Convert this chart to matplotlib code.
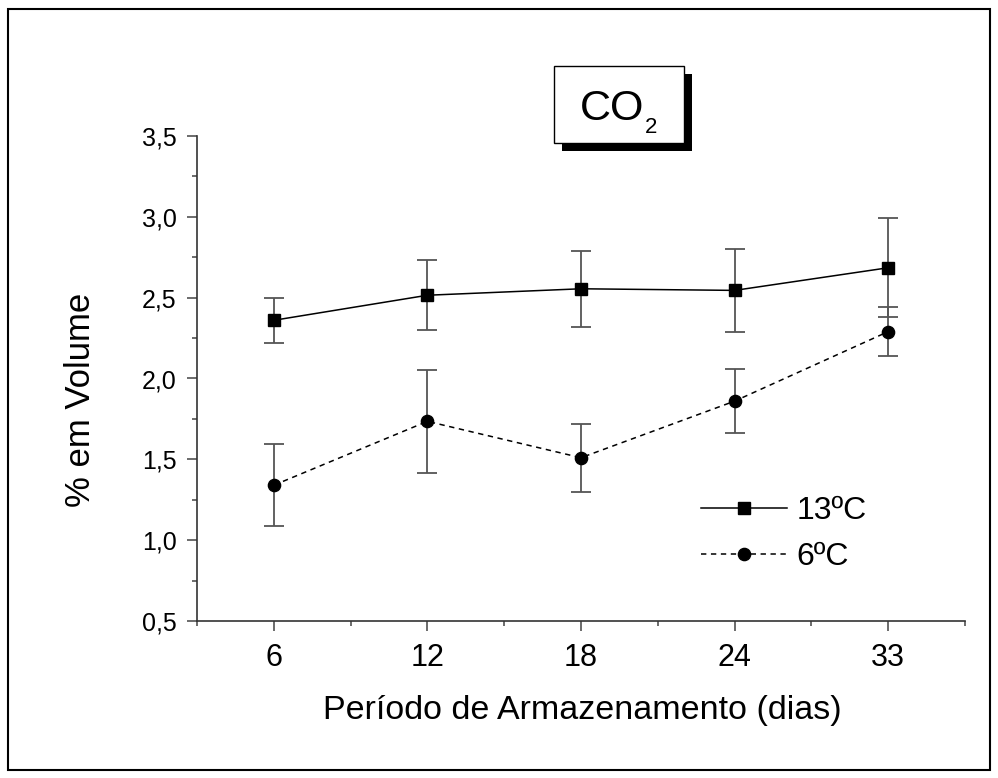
import matplotlib
matplotlib.use('Agg')
import matplotlib.pyplot as plt
from matplotlib.patches import Rectangle
from matplotlib.ticker import FixedLocator, FuncFormatter, MultipleLocator

plt.rcParams['font.family'] = ['Liberation Sans', 'DejaVu Sans']

# dados
dias = ['6', '12', '18', '24', '33']
co2_13 = [2.36, 2.515, 2.555, 2.545, 2.685]
err_13 = [0.14, 0.215, 0.235, 0.255, 0.305]
co2_6 = [1.34, 1.735, 1.51, 1.86, 2.29]
err_6 = [0.255, 0.32, 0.21, 0.20, 0.15]

W, H = 998, 778
fig = plt.figure(figsize=(W / 100, H / 100), dpi=100)
ax = fig.add_axes([197 / W, 1 - 621 / H, 768 / W, 485 / H])

def px(x, y):
    # pixel (a partir do topo) -> fração da figura
    return x / W, 1 - y / H

pos = list(range(len(dias)))

# barras de erro
ax.errorbar(pos, co2_13, yerr=err_13, fmt='none', ecolor='#555555',
            elinewidth=1.3, capsize=7.5, capthick=1.3, zorder=2)
ax.errorbar(pos, co2_6, yerr=err_6, fmt='none', ecolor='#555555',
            elinewidth=1.3, capsize=7.5, capthick=1.3, zorder=2)

# séries
ax.plot(pos, co2_13, color='black', lw=1.1, marker='s', ms=8.5,
        mfc='black', mec='black', label='13ºC', zorder=3)
ax.plot(pos, co2_6, color='black', lw=1.1, ls=(0, (3.5, 3)), marker='o',
        ms=8.8, mfc='black', mec='black', label='6ºC', zorder=3)

ax.set_xlim(-0.5, 4.5)
ax.set_ylim(0.5, 3.5)
ax.xaxis.set_major_locator(FixedLocator(pos))
ax.set_xticklabels(dias)
ax.xaxis.set_minor_locator(FixedLocator([p - 0.5 for p in pos] + [4.5]))
ax.yaxis.set_major_locator(MultipleLocator(0.5))
ax.yaxis.set_minor_locator(MultipleLocator(0.25))
ax.yaxis.set_major_formatter(FuncFormatter(lambda v, p: f'{v:.1f}'.replace('.', ',')))

for s in ['top', 'right']:
    ax.spines[s].set_visible(False)
for s in ['left', 'bottom']:
    ax.spines[s].set_color('#333333')
    ax.spines[s].set_linewidth(1.2)

ax.tick_params(which='major', direction='out', length=7.5, width=1.1, color='#444444')
ax.tick_params(which='minor', direction='out', length=3.8, width=1.1, color='#444444')
ax.tick_params(axis='x', which='major', labelsize=22, pad=8)
ax.tick_params(axis='y', which='major', labelsize=18, pad=7)

fig.text(*px(582, 710), 'Período de Armazenamento (dias)', fontsize=24.5,
         ha='center', va='center')
fig.text(*px(80, 400), '% em Volume', fontsize=25, rotation=90,
         ha='center', va='center')

leg = ax.legend(loc='center left', bbox_to_anchor=px(701, 534),
                bbox_transform=fig.transFigure, frameon=False, fontsize=23,
                handlelength=2.7, handletextpad=0.3, labelspacing=0.5,
                borderpad=0, borderaxespad=0)

# caixa CO2 com sombra
fig.add_artist(Rectangle(px(562, 151), 130 / W, 77 / H, transform=fig.transFigure,
                         facecolor='black', edgecolor='black', lw=0))
fig.add_artist(Rectangle(px(554, 143), 130 / W, 77 / H, transform=fig.transFigure,
                         facecolor='white', edgecolor='black', lw=1.0))
fig.text(*px(580, 120), 'CO', fontsize=31, ha='left', va='baseline')
fig.text(*px(645, 133), '2', fontsize=16, ha='left', va='baseline')

# moldura externa
fig.add_artist(Rectangle(px(8, 770), 982 / W, 761 / H, transform=fig.transFigure,
                         facecolor='none', edgecolor='black', lw=1.5))

fig.savefig('out.png', dpi=100)
